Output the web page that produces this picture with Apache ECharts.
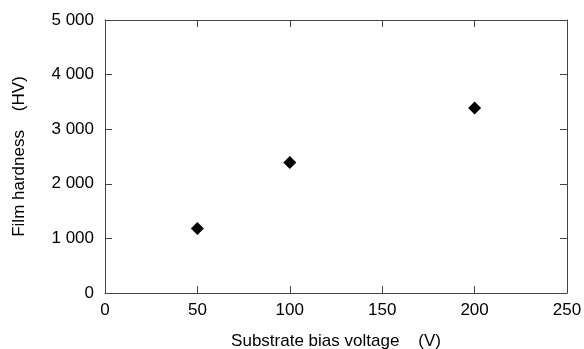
<!DOCTYPE html>
<html>
<head>
<meta charset="utf-8">
<script src="https://cdn.jsdelivr.net/npm/echarts@6/dist/echarts.min.js"></script>
<style>html,body{margin:0;padding:0;background:#fff}#c{width:584px;height:349px}</style>
</head>
<body>
<div id="c"></div>
<script>
var voltages = [50, 100, 200];
var hardness = [1180, 2390, 3390];
var xName = 'Substrate bias voltage    (V)';
var yName = 'Film hardness    (HV)';

var points = voltages.map(function (v, i) { return [v, hardness[i]]; });
var font = '"Liberation Sans", Arial, sans-serif';
var lineCol = '#444';
function fmt(v) { return String(v).replace(/\B(?=(\d{3})+(?!\d))/g, ' '); }

var chart = echarts.init(document.getElementById('c'), null, {renderer: 'canvas'});
chart.setOption({
  animation: false,
  backgroundColor: '#fff',
  grid: {left: 105, top: 20, right: 17, bottom: 56, containLabel: false, outerBoundsMode: 'none'},
  xAxis: [{
    type: 'value', min: 0, max: 250, interval: 50,
    name: xName, nameLocation: 'middle', nameGap: 40,
    nameTextStyle: {color: '#000', fontSize: 17, fontFamily: font},
    axisLine: {show: true, onZero: false, lineStyle: {color: lineCol, width: 1}},
    axisTick: {show: true, inside: true, length: 7, lineStyle: {color: lineCol}},
    axisLabel: {color: '#000', fontSize: 17, fontFamily: font, margin: 9},
    splitLine: {show: false}
  }, {
    type: 'value', position: 'top', min: 0, max: 250, interval: 50,
    axisLine: {show: true, onZero: false, lineStyle: {color: lineCol, width: 1}},
    axisTick: {show: true, inside: true, length: 7, lineStyle: {color: lineCol}},
    axisLabel: {show: false}, splitLine: {show: false}
  }],
  yAxis: [{
    type: 'value', min: 0, max: 5000, interval: 1000,
    name: yName, nameLocation: 'middle', nameGap: 77,
    nameTextStyle: {color: '#000', fontSize: 17, fontFamily: font},
    axisLine: {show: true, onZero: false, lineStyle: {color: lineCol, width: 1}},
    axisTick: {show: true, inside: true, length: 7, lineStyle: {color: lineCol}},
    axisLabel: {color: '#000', fontSize: 17, fontFamily: font, margin: 11, formatter: fmt},
    splitLine: {show: false}
  }, {
    type: 'value', position: 'right', min: 0, max: 5000, interval: 1000,
    axisLine: {show: true, onZero: false, lineStyle: {color: lineCol, width: 1}},
    axisTick: {show: true, inside: true, length: 7, lineStyle: {color: lineCol}},
    axisLabel: {show: false}, splitLine: {show: false}
  }],
  series: [{
    type: 'scatter', xAxisIndex: 0, yAxisIndex: 0,
    data: points, symbol: 'diamond', symbolSize: 13,
    itemStyle: {color: '#000', opacity: 1}
  }]
});
</script>
</body>
</html>
